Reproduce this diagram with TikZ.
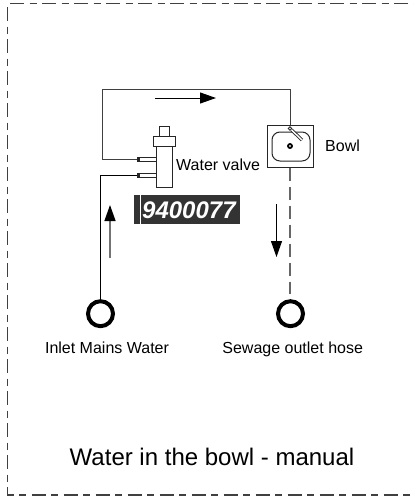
\documentclass[tikz,border=0pt]{standalone}
\usepackage{fontspec}
\setmainfont{Liberation Sans}
\usetikzlibrary{arrows.meta}
\definecolor{pipe}{gray}{0.25}
\definecolor{serial}{gray}{0.2}
\tikzset{
  x=1pt,y=-1pt,
  lbl/.style={inner sep=0pt,anchor=base,font=\fontsize{16}{18}\selectfont,text=black},
  lbll/.style={lbl,anchor=base west},
  box/.style={draw=black!85,line width=1pt,inner sep=0pt,fill=white,rectangle},
  frame/.style={draw=black!75,line width=1.3pt,dash pattern=on 14pt off 5.5pt on 7pt off 5.5pt},
  pipeline/.style={draw=pipe,line width=1pt},
  dashpipe/.style={draw=black!60,line width=1.3pt,dash pattern=on 13pt off 6pt},
  flow/.style={draw=black,line width=1pt,-{Triangle[length=16pt,width=11pt]}},
  flowup/.style={draw=black!55,line width=1.4pt,-{Triangle[length=16pt,width=11pt,black]}},
  port/.style={draw=black,line width=4pt,circle,inner sep=0pt,minimum size=25pt},
}
\begin{document}
\begin{tikzpicture}
\useasboundingbox (0,0) rectangle (414,496);
% frame
\coordinate (fa) at (7.5,7);
\coordinate (fb) at (7.5,495);
\coordinate (fc) at (414,495);
\coordinate (fd) at (10,3.5);
\coordinate (fe) at (414,3.5);
\draw[frame] (fa) -- (fb) -- (fc);
\draw[frame] (fd) -- (fe);
% valve
\node[box,minimum width=16pt,minimum height=41pt] (body) at (164,166.5) {};
\node[box,minimum width=21.5pt,minimum height=10pt] (cap) at (164.25,141) {};
\node[box,minimum width=10.5pt,minimum height=10pt] (top) at (164.25,131) {};
\node[box,minimum width=19pt,minimum height=4pt,line width=.9pt] (tubeU) at (146.5,159) {};
\node[box,minimum width=19pt,minimum height=4pt,line width=.9pt] (tubeL) at (146.5,175) {};
\node[fill=black!85,minimum width=3pt,minimum height=4.5pt,inner sep=0pt] (endU) at (138.5,159) {};
\node[fill=black!85,minimum width=3pt,minimum height=4.5pt,inner sep=0pt] (endL) at (138.5,175) {};
% bowl
\node[box,minimum width=46pt,minimum height=42pt] (bowl) at (290,146) {};
\node[box,rounded corners=8pt,minimum width=38pt,minimum height=29pt] (basin) at (291,146.5) {};
\node[draw=black,line width=1.8pt,circle,inner sep=0pt,minimum size=4pt] (drain) at (290,146) {};
\coordinate (tapend) at (302,140);
\node[draw=black!85,fill=white,line width=.9pt,circle,inner sep=0pt,minimum size=3.5pt] (tap) at (290,128.5) {};
\draw[black!85,line width=3.2pt] (tap) -- (tapend);
\draw[white,line width=1.4pt] (tap) -- (tapend);
% ports
\node[port] (inlet) at (100.5,313.7) {};
\node[port] (outlet) at (290.5,313.7) {};
% pipes
\coordinate (c1) at (102,159);
\coordinate (c2) at (102,89);
\coordinate (c3) at (290,89);
\coordinate (c4) at (100.5,175);
\coordinate (o1) at (290,294);
\draw[pipeline] (endU.west) -- (c1) -- (c2) -- (c3) -- (bowl.north -| c3);
\draw[draw=black,line width=1pt] (endL.west) -- (c4) -- (inlet.north);
\draw[dashpipe] (bowl.south -| o1) -- (o1);
% flow arrows
\coordinate (a1) at (155,98);
\coordinate (a2) at (216,98);
\coordinate (b1) at (110,258);
\coordinate (b2) at (110,205);
\coordinate (d1) at (276.5,204);
\coordinate (d2) at (276.5,257);
\draw[flow] (a1) -- (a2);
\draw[flowup] (b1) -- (b2);
\draw[flow] (d1) -- (d2);
% serial
\node[fill=serial,minimum width=106pt,minimum height=29pt,inner sep=0pt] (plate) at (187,209.5) {};
\draw[white,line width=1pt] (140,195) coordinate (s1) -- (140,224) coordinate (s2);
\node[lbll,font=\fontsize{24}{26}\selectfont\bfseries\itshape,text=white] (sn) at (142,218) {9400077};
% labels
\node[lbll] (lvalve) at (176,170.7) {Water valve};
\node[lbll] (lbowl) at (325,151.7) {Bowl};
\node[lbl] (linlet) at (107,353) {Inlet Mains Water};
\node[lbl] (lsew) at (292.7,353) {Sewage outlet hose};
\node[lbl,font=\fontsize{24}{26}\selectfont] (title) at (212,465) {Water in the bowl - manual};
\end{tikzpicture}
\end{document}
